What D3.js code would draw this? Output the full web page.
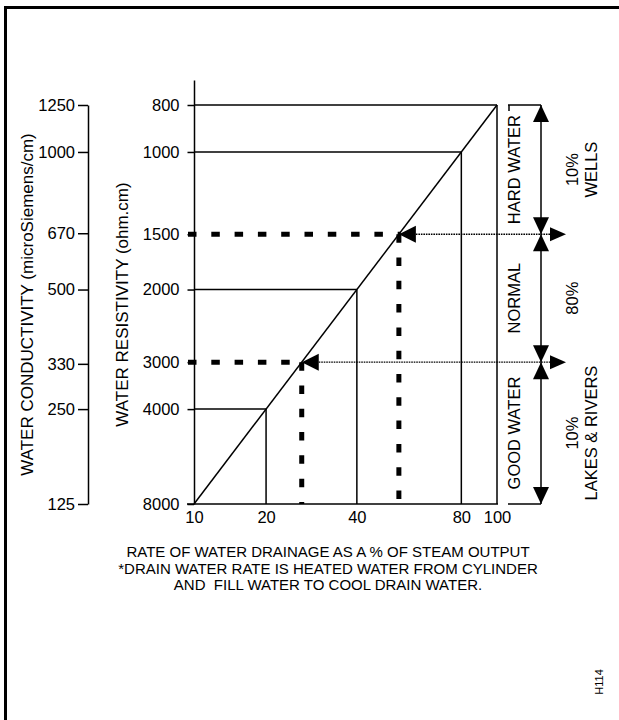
<!DOCTYPE html>
<html><head><meta charset="utf-8">
<script src="https://cdn.jsdelivr.net/npm/d3@7"></script>
<style>
body{margin:0;background:#fff}
svg{display:block}
text{font-family:"Liberation Sans",Arial,Helvetica,sans-serif;fill:#000}
</style>
</head><body>
<svg id="chart" width="619" height="720"></svg>
<script>
// ---------- data ----------
const drainageTicks = [10, 20, 40, 80, 100];               // % of steam output
const resistivityTicks = [800, 1000, 1500, 2000, 3000, 4000, 8000]; // ohm.cm
const conductivityTicks = [1250, 1000, 670, 500, 330, 250, 125];    // microSiemens/cm
const guideResistivity = [800, 1000, 2000, 4000];          // solid guide lines
const thresholdResistivity = [1500, 3000];                 // dashed reading lines
const zoneBounds = [800, 1500, 3000, 8000];
const zoneNames = ["HARD WATER", "NORMAL", "GOOD WATER"];
const zoneSources = [["10%", "WELLS"], ["80%"], ["10%", "LAKES & RIVERS"]];
const captionLines = [
  "RATE OF WATER DRAINAGE AS A % OF STEAM OUTPUT",
  "*DRAIN WATER RATE IS HEATED WATER FROM CYLINDER",
  "AND  FILL WATER TO COOL DRAIN WATER."
];
const DRAIN_X_RES = 80000;   // drainage % x resistivity
const COND_X_RES = 1e6;      // conductivity x resistivity

// ---------- scales ----------
const svg = d3.select("#chart");
const x = d3.scaleSymlog().constant(10).domain([10, 100]).range([194, 497]);
const yDrain = d3.scaleSymlog().constant(10).domain([10, 100]).range([504, 105]);
const drainOfRes = r => DRAIN_X_RES / r;
function customScale(f, range) {
  const s = d => f(d);
  s.copy = () => customScale(f, range);
  s.range = () => range;
  return s;
}
const yRes = customScale(r => yDrain(drainOfRes(r)), [504, 80]);
const yCond = customScale(c => yDrain(drainOfRes(COND_X_RES / c)), [504, 105]);

const FONT = '"Liberation Sans",Arial,Helvetica,sans-serif';

// ---------- frame ----------
svg.append("line").attr("x1", 4).attr("x2", 619).attr("y1", 7.5).attr("y2", 7.5)
  .attr("stroke", "#000").attr("stroke-width", 3);
svg.append("line").attr("x1", 5.5).attr("x2", 5.5).attr("y1", 6).attr("y2", 720)
  .attr("stroke", "#000").attr("stroke-width", 3);

function styleAxis(g) {
  g.attr("font-family", FONT).attr("font-size", 16.5);
  g.selectAll("path,line").attr("stroke", "#000").attr("stroke-width", 1.5);
  g.selectAll("text").attr("fill", "#000");
}

// conductivity axis
svg.append("g").attr("transform", "translate(88,0)")
  .call(d3.axisLeft(yCond).tickValues(conductivityTicks).tickSizeInner(10).tickSizeOuter(0).tickPadding(3))
  .call(styleAxis);

// resistivity axis
svg.append("g").attr("transform", "translate(194,0)")
  .call(d3.axisLeft(yRes).tickValues(resistivityTicks).tickSizeInner(6.5).tickSizeOuter(0).tickPadding(8))
  .call(styleAxis);

// drainage axis
const xAxisG = svg.append("g").attr("transform", "translate(0,504)")
  .call(d3.axisBottom(x).tickValues(drainageTicks).tickSize(0).tickPadding(7))
  .call(styleAxis);
xAxisG.select(".domain").attr("d", "M187,0H498");

// axis titles
svg.append("text").attr("transform", `translate(33,${(yCond(125) + yCond(1250)) / 2}) rotate(-90)`)
  .attr("text-anchor", "middle").attr("font-size", 17).text("WATER CONDUCTIVITY (microSiemens/cm)");
svg.append("text").attr("transform", `translate(128,${(yRes(8000) + yRes(800)) / 2}) rotate(-90)`)
  .attr("text-anchor", "middle").attr("font-size", 17).text("WATER RESISTIVITY (ohm.cm)");

// ---------- guide lines ----------
const lines = svg.append("g").attr("stroke", "#000").attr("stroke-width", 1.5).attr("fill", "none");
guideResistivity.forEach(r => {
  const px = x(drainOfRes(r)), py = yRes(r);
  lines.append("line").attr("x1", 194).attr("x2", px).attr("y1", py).attr("y2", py);
  lines.append("line").attr("x1", px).attr("x2", px).attr("y1", py).attr("y2", yRes(8000));
});
// diagonal
lines.append("line")
  .attr("x1", x(drainOfRes(8000))).attr("y1", yRes(8000))
  .attr("x2", x(drainOfRes(800))).attr("y2", yRes(800));

// ---------- dashed reading lines ----------
const dashG = svg.append("g").attr("stroke", "#000").attr("stroke-width", 5)
  .attr("stroke-dasharray", "8.5 14.8").attr("fill", "none");
thresholdResistivity.forEach(r => {
  const px = x(drainOfRes(r)), py = yRes(r);
  dashG.append("line").attr("x1", 188).attr("x2", px + 2).attr("y1", py).attr("y2", py);
  dashG.append("line").attr("x1", px).attr("x2", px).attr("y1", py).attr("y2", yRes(8000));
});

// ---------- right side brackets and arrows ----------
const ax = 541;
const right = svg.append("g");
right.append("line").attr("x1", 508).attr("x2", ax).attr("y1", yRes(800)).attr("y2", yRes(800))
  .attr("stroke", "#000").attr("stroke-width", 1.5);
right.append("line").attr("x1", 509).attr("x2", 509).attr("y1", yRes(800)).attr("y2", yRes(800) + 6)
  .attr("stroke", "#000").attr("stroke-width", 1.5);
right.append("line").attr("x1", 508).attr("x2", ax).attr("y1", yRes(8000)).attr("y2", yRes(8000))
  .attr("stroke", "#000").attr("stroke-width", 1.5);
right.append("line").attr("x1", ax).attr("x2", ax).attr("y1", yRes(800)).attr("y2", yRes(8000))
  .attr("stroke", "#000").attr("stroke-width", 1.5);

const AL = 17, AW = 8;
for (let i = 0; i < zoneBounds.length - 1; i++) {
  const yt = yRes(zoneBounds[i]), yb = yRes(zoneBounds[i + 1]);
  right.append("path").attr("d", `M${ax},${yt}L${ax - AW},${yt + AL}L${ax + AW},${yt + AL}Z`).attr("fill", "#000");
  right.append("path").attr("d", `M${ax},${yb}L${ax - AW},${yb - AL}L${ax + AW},${yb - AL}Z`).attr("fill", "#000");
  const ym = (yt + yb) / 2;
  svg.append("text").attr("transform", `translate(520,${ym}) rotate(-90)`)
    .attr("text-anchor", "middle").attr("font-size", 16.5).text(zoneNames[i]);
  zoneSources[i].forEach((t, j) => {
    svg.append("text").attr("transform", `translate(${578 + j * 19},${ym}) rotate(-90)`)
      .attr("text-anchor", "middle").attr("font-size", 16.5).text(t);
  });
}

thresholdResistivity.forEach(r => {
  const px = x(drainOfRes(r)), py = yRes(r);
  right.append("path").attr("d", `M${px},${py}L${px + AL},${py - 8.5}L${px + AL},${py + 8.5}Z`).attr("fill", "#000");
  right.append("line").attr("x1", px + AL).attr("x2", 551).attr("y1", py).attr("y2", py)
    .attr("stroke", "#000").attr("stroke-width", 1.4).attr("stroke-dasharray", "1.6 0.9");
  right.append("path").attr("d", `M566,${py}L550,${py - 7}L550,${py + 7}Z`).attr("fill", "#000");
});

// ---------- caption ----------
captionLines.forEach((t, i) => {
  svg.append("text").attr("x", 328).attr("y", 557 + i * 16.5).attr("text-anchor", "middle")
    .attr("font-size", 15).style("white-space", "pre").text(t);
});

svg.append("text").attr("transform", "translate(603,682) rotate(-90)")
  .attr("text-anchor", "middle").attr("font-size", 11).text("H114");
</script>
</body></html>
